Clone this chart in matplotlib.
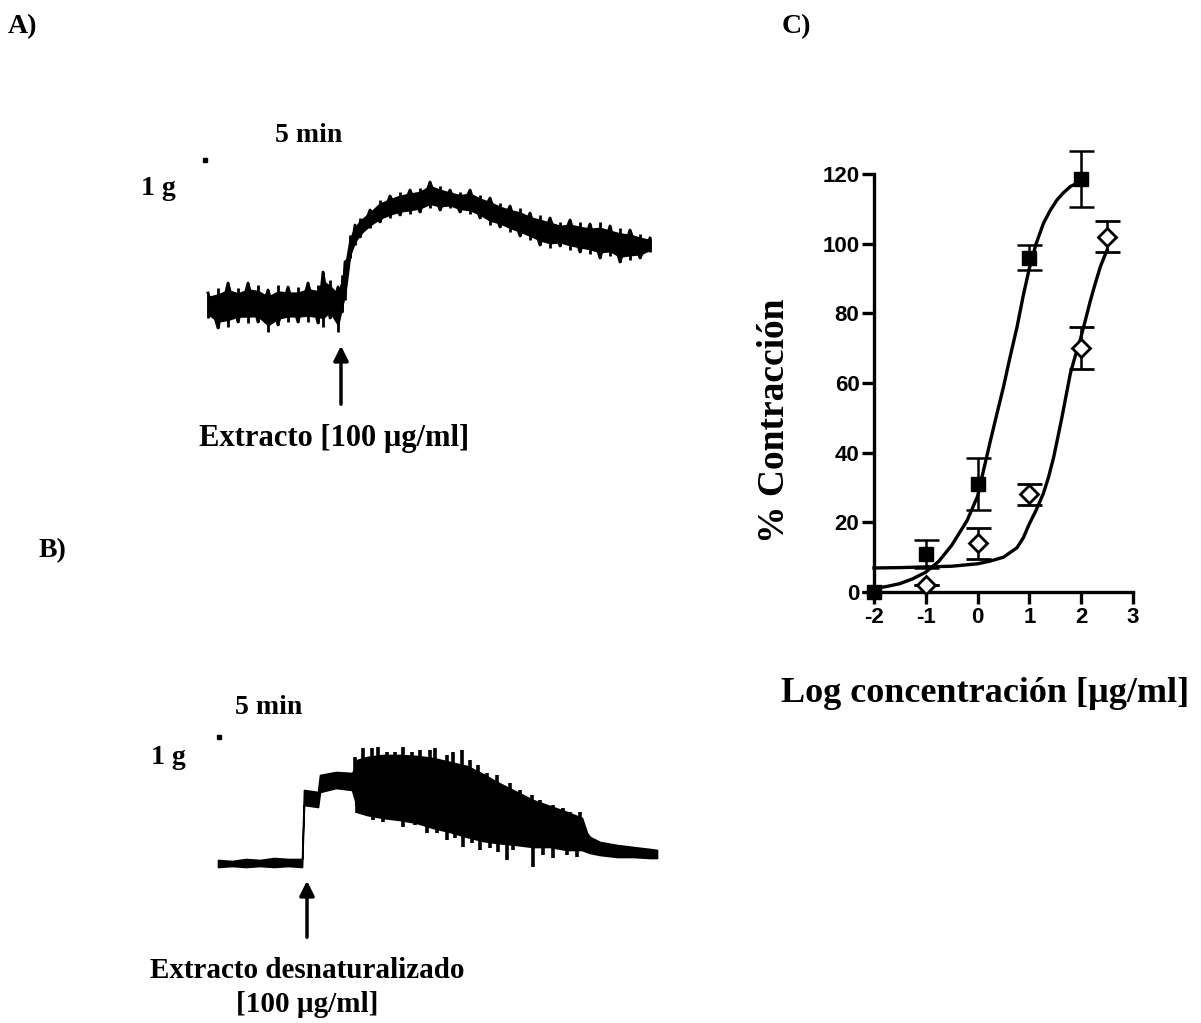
import numpy as np
import matplotlib.pyplot as plt

plt.rcParams['axes.unicode_minus'] = False

W, H = 1201, 1023
SERIF = ['Liberation Serif', 'DejaVu Serif']
SANS = ['Liberation Sans', 'DejaVu Sans']

# A) registro con extracto: tiempo (unidades del registro) y envolventes de la señal
tiempo_a = [0, 10, 20, 30, 40, 50, 60, 70, 80, 90, 100, 110,
            115, 122, 130, 134, 137, 142, 147, 152,
            162, 172, 182, 192, 202, 212, 222, 232, 242, 252,
            262, 272, 282, 292, 302, 312, 322, 332, 342, 352,
            362, 372, 382, 392, 402, 412, 422, 432, 442]
sup_a = [52, 57, 62, 57, 62, 60, 55, 60, 58, 58, 62, 60,
         73, 65, 58, 70, 83, 110, 120, 127,
         135, 145, 149, 153, 155, 157, 163, 159, 155, 153,
         155, 150, 147, 142, 139, 137, 132, 130, 127, 123,
         125, 123, 121, 123, 119, 117, 115, 111, 107]
inf_a = [27, 17, 18, 23, 22, 23, 13, 20, 23, 23, 23, 22,
         18, 27, 13, 33, 45, 87, 100, 108,
         117, 123, 127, 130, 131, 133, 137, 135, 137, 133,
         131, 127, 120, 118, 113, 109, 105, 100, 97, 99,
         95, 93, 91, 87, 89, 83, 85, 87, 93]

# B) registro con extracto desnaturalizado
tiempo_b = [0, 14, 28, 42, 56, 70, 84, 86, 100, 102, 118, 134, 137, 139,
            149, 165, 182, 199, 215, 232, 249, 265, 279, 299, 315, 332,
            349, 364, 369, 372, 382, 399, 415, 432, 439]
sup_b = [15, 14, 16, 15, 17, 16, 16, 85, 83, 100, 103, 102, 107, 115,
         118, 120, 120, 119, 117, 113, 109, 101, 93, 83, 75, 69,
         63, 57, 42, 38, 33, 30, 28, 26, 25]
inf_b = [8, 9, 8, 9, 8, 9, 8, 70, 68, 83, 87, 85, 75, 63,
         60, 57, 55, 52, 47, 43, 38, 34, 32, 30, 28, 28,
         25, 25, 23, 22, 20, 18, 18, 17, 17]
picos_sup_t = [137, 145, 154, 160, 169, 177, 185, 194, 202, 212, 217, 229, 235,
               244, 252, 260, 269, 279, 289, 292, 302, 314, 322, 335, 345, 352, 362]
picos_sup_h = [118, 127, 127, 128, 123, 123, 128, 123, 125, 125, 127, 120, 123,
               125, 115, 110, 102, 100, 87, 92, 85, 80, 75, 70, 67, 63, 63]
picos_inf_t = [139, 147, 155, 165, 175, 185, 197, 209, 219, 229, 237, 245, 254,
               262, 272, 280, 289, 295, 315, 325, 335, 349, 359]
picos_inf_h = [62, 60, 55, 53, 57, 48, 50, 42, 42, 35, 37, 28, 32,
               25, 27, 23, 15, 25, 8, 20, 17, 20, 18]

# C) curva concentración-respuesta
log_conc = [-2, -1, 0, 1, 2]
extracto = [0, 11, 31, 96, 118.5]
extracto_err = [0, 4, 7.5, 3.5, 8]
log_conc_desn = [-1, 0, 1, 2, 2.5]
desnat = [2, 14, 28, 70, 102]
desnat_err = [0, 4.5, 3, 6, 4.5]

curva_ext_x = [-2, -1.75, -1.5, -1.25, -1, -0.75, -0.5, -0.2, 0, 0.1, 0.25, 0.37,
               0.5, 0.62, 0.76, 0.88, 1, 1.13, 1.27, 1.4, 1.53, 1.65, 1.79, 1.98]
curva_ext = [1.0, 1.6, 2.4, 3.8, 5.7, 8.8, 13.4, 20.6, 27.5, 34, 43.6, 51,
             58.9, 67, 76, 85, 93, 100, 105.8, 109.5, 112.5, 114.5, 116.4, 117.8]
curva_desn_x = [-2, -1.5, -1, -0.5, 0, 0.25, 0.5, 0.76, 0.88, 1, 1.13, 1.27, 1.37,
                1.47, 1.55, 1.63, 1.71, 1.79, 1.88, 1.98, 2.08, 2.18, 2.27, 2.37, 2.44, 2.5]
curva_desn = [6.9, 7.0, 7.2, 7.4, 8.1, 8.9, 10, 12.7, 15.5, 19.6, 23.5, 28.3, 33,
              38.8, 44.5, 50.3, 56.5, 62.7, 67.5, 72.3, 78, 83.8, 88.5, 93.4, 96, 98.2]


def fx(x):
    return x / W


def fy(y):
    return 1 - y / H


fig = plt.figure(figsize=(W / 100, H / 100), dpi=100)

# ---------------- panel A ----------------
axa = fig.add_axes([fx(200), fy(345), 460 / W, 195 / H])
axa.set_xlim(-8, 452)
axa.set_ylim(0, 195)
axa.axis('off')
sa = np.array(sup_a, float)
ia = np.array(inf_a, float)
# núcleo denso del registro + ruido entre envolventes
axa.fill_between(tiempo_a, ia + 0.17 * (sa - ia), sa - 0.17 * (sa - ia), color='k', lw=1.5)
zig_y = np.where(np.arange(len(tiempo_a)) % 2 == 0, sa, ia)
axa.plot(tiempo_a, zig_y, color='k', lw=2)
axa.vlines(tiempo_a, ia, sa, color='k', lw=2)
axa.plot([-3], [185], 's', ms=3, color='k', clip_on=False)
axa.annotate('', xy=(133, 2), xytext=(133, -62), annotation_clip=False,
             arrowprops=dict(arrowstyle='-|>', color='k', lw=2.5, mutation_scale=22))

# ---------------- panel B ----------------
axb = fig.add_axes([fx(210), fy(875), 455 / W, 175 / H])
axb.set_xlim(-8, 447)
axb.set_ylim(0, 175)
axb.axis('off')
axb.fill_between(tiempo_b, inf_b, sup_b, color='k', edgecolor='k', lw=1.2)
axb.vlines(picos_sup_t, np.array(picos_sup_h) - 30, picos_sup_h, color='k', lw=2.6)
axb.vlines(picos_inf_t, picos_inf_h, np.array(picos_inf_h) + 30, color='k', lw=2.6)
axb.plot([1], [138], 's', ms=3, color='k', clip_on=False)
axb.annotate('', xy=(89, -3), xytext=(89, -65), annotation_clip=False,
             arrowprops=dict(arrowstyle='-|>', color='k', lw=2.5, mutation_scale=22))

# ---------------- panel C ----------------
axc = fig.add_axes([fx(874), fy(592), (1133 - 874) / W, (592 - 174) / H])
axc.set_xlim(-2, 3)
axc.set_ylim(0, 120)
for s in ['top', 'right']:
    axc.spines[s].set_visible(False)
for s in ['left', 'bottom']:
    axc.spines[s].set_linewidth(2.4)
axc.set_xticks(range(-2, 4))
axc.set_yticks(range(0, 121, 20))
axc.tick_params(width=2.4, length=8.5, pad=2, labelsize=16)
for lbl in axc.get_xticklabels() + axc.get_yticklabels():
    lbl.set_fontfamily(SANS)
    lbl.set_fontweight('bold')

axc.plot(curva_ext_x, curva_ext, color='k', lw=2.4, clip_on=False)
axc.plot(curva_desn_x, curva_desn, color='k', lw=2.4, clip_on=False)
e1 = axc.errorbar(log_conc, extracto, yerr=extracto_err, fmt='s', ms=10, color='k',
                  ecolor='k', elinewidth=1.8, capsize=9, capthick=1.8, zorder=3)
e2 = axc.errorbar(log_conc_desn, desnat, yerr=desnat_err, fmt='D', ms=9, color='k',
                  mfc='white', mew=2, ecolor='k', elinewidth=1.8, capsize=9,
                  capthick=1.8, zorder=3)
for cont in (e1, e2):
    for art in cont.get_children():
        art.set_clip_on(False)

fig.text(fx(775), fy(421), '% Contracción', rotation=90, ha='center', va='center',
         fontsize=27, fontweight='bold', family=SERIF)
fig.text(fx(985), fy(693), 'Log concentración [µg/ml]', ha='center', va='center',
         fontsize=26, fontweight='bold', family=SERIF)

# ---------------- textos ----------------
lab = dict(fontweight='bold', family=SERIF, ha='center', va='center')
fig.text(fx(23), fy(27), 'A)', fontsize=20, **lab)
fig.text(fx(796), fy(27), 'C)', fontsize=20, **lab)
fig.text(fx(52), fy(551), 'B)', fontsize=20, **lab)
fig.text(fx(309), fy(135), '5 min', fontsize=20, **lab)
fig.text(fx(158), fy(188), '1 g', fontsize=20, **lab)
fig.text(fx(334), fy(438), 'Extracto [100 µg/ml]', fontsize=22, **lab)
fig.text(fx(269), fy(708), '5 min', fontsize=20, **lab)
fig.text(fx(168), fy(758), '1 g', fontsize=20, **lab)
fig.text(fx(307), fy(970), 'Extracto desnaturalizado', fontsize=21, **lab)
fig.text(fx(307), fy(1005), '[100 µg/ml]', fontsize=21, **lab)

fig.savefig('out.png', dpi=100)
